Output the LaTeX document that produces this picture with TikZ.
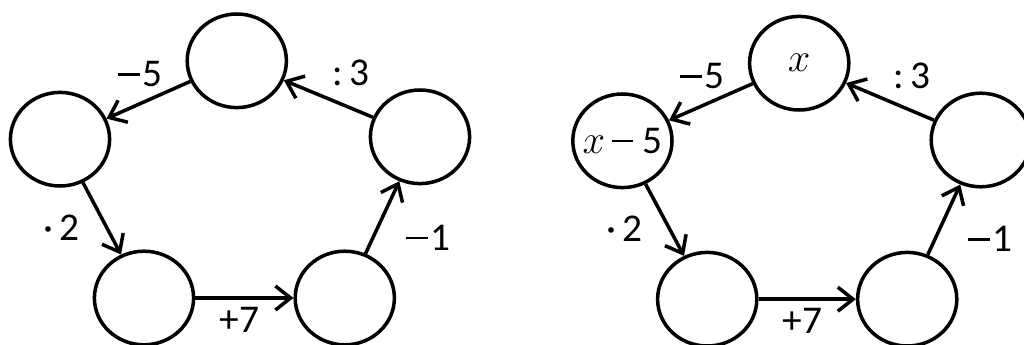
\documentclass[tikz,border=0pt]{standalone}
\usepackage{fontspec}
\setmainfont{Carlito}
\usetikzlibrary{arrows.meta,positioning,shapes.geometric}

\newcommand{\opminus}{\rule[0.28em]{0.55em}{0.07em}\hspace{0.06em}}

\tikzset{
  numbox/.style={ellipse,draw,line width=1.25pt,minimum width=1.24cm,
                 minimum height=1.17cm,inner sep=0pt},
  oparrow/.style={-{Straight Barb[length=1.9mm,width=3mm]},line width=1.25pt},
  oplabel/.style={inner sep=1pt}
}

\begin{document}
\begin{tikzpicture}[font=\fontsize{14}{16}\selectfont]
        \useasboundingbox (0,0) rectangle (12.8,4.3);
        \clip (0,0) rectangle (12.8,4.3);
        % left cycle
        \node[numbox] (topA)   at (2.96,3.54) {};
        \node[numbox] (leftA)  at (0.75,2.56) {};
        \node[numbox] (botlA)  at (1.80,0.575) {};
        \node[numbox] (botrA)  at (4.31,0.575) {};
        \node[numbox] (rightA) at (5.25,2.59) {};
        \draw[oparrow] (topA) -- node[oplabel,above=1.5mm,pos=0.6] {\opminus5} (leftA);
        \draw[oparrow] (leftA) -- node[oplabel,left=2.8mm,pos=0.62] {·\,2} (botlA);
        \draw[oparrow] (botlA) -- node[oplabel,below=0.6mm,pos=0.45] {+7} (botrA);
        \draw[oparrow] (botrA) -- node[oplabel,right=3.6mm,pos=0.22] {\opminus1} (rightA);
        \draw[oparrow] (rightA) -- node[oplabel,above=2.2mm,pos=0.25] {:\,3} (topA);
        % right cycle
        \node[numbox] (topB)   at (9.99,3.51) {$x$};
        \node[numbox] (leftB)  at (7.78,2.54) {\makebox[0pt]{$x$\,\opminus\,5}};
        \node[numbox] (botlB)  at (8.84,0.56) {};
        \node[numbox] (botrB)  at (11.34,0.56) {};
        \node[numbox] (rightB) at (12.26,2.55) {};
        \draw[oparrow] (topB) -- node[oplabel,above=1.5mm,pos=0.6] {\opminus5} (leftB);
        \draw[oparrow] (leftB) -- node[oplabel,left=2.8mm,pos=0.62] {·\,2} (botlB);
        \draw[oparrow] (botlB) -- node[oplabel,below=0.6mm,pos=0.45] {+7} (botrB);
        \draw[oparrow] (botrB) -- node[oplabel,right=3.6mm,pos=0.22] {\opminus1} (rightB);
        \draw[oparrow] (rightB) -- node[oplabel,above=2.2mm,pos=0.25] {:\,3} (topB);
\end{tikzpicture}
\end{document}
